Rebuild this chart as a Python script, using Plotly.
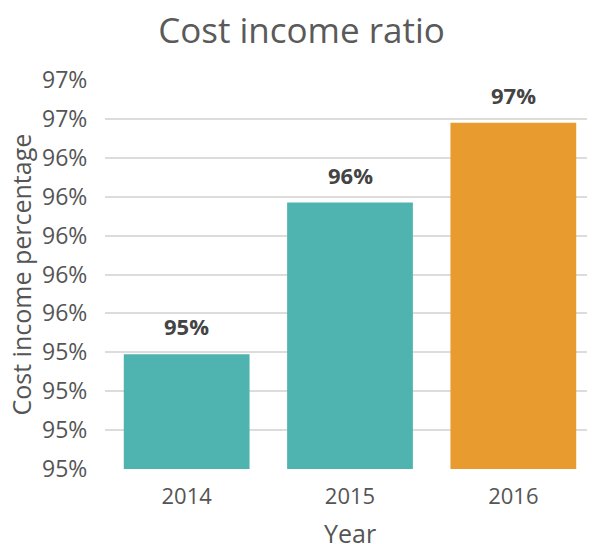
import plotly.graph_objects as go

# data
years = ["2014", "2015", "2016"]
cost_income = [0.9539, 0.9617, 0.9658]
bar_colors = ["#4fb3b0", "#4fb3b0", "#e89b2f"]

FONT = "'Open Sans', sans-serif"

fig = go.Figure(
    go.Bar(
        x=years,
        y=cost_income,
        marker={"color": bar_colors, "line": {"width": 0}},
    )
)

# value labels above the bars (category axis -> position by index)
for i, v in enumerate(cost_income):
    fig.add_annotation(
        x=i,
        y=v,
        xref="x",
        yref="y",
        text=f"<b>{v:.0%}</b>",
        showarrow=False,
        yanchor="bottom",
        yshift=11,
        font={"family": FONT, "size": 22, "color": "#444444"},
    )

# axis titles placed by hand (standoff gets clamped by the fixed margins)
fig.add_annotation(
    x=0.5, y=0, xref="paper", yref="paper",
    text="Year", showarrow=False,
    xanchor="center", yanchor="middle", yshift=-64,
    font={"family": FONT, "size": 25, "color": "#555555"},
)
fig.add_annotation(
    x=0, y=0.5, xref="paper", yref="paper",
    text="Cost income percentage", showarrow=False, textangle=-90,
    xanchor="center", yanchor="middle", xshift=-85,
    font={"family": FONT, "size": 25, "color": "#555555"},
)

# the page body has an 8px margin, so the figure is sized 8px smaller
fig.update_layout(
    width=587,
    height=536,
    margin={"l": 97, "r": 0, "t": 72, "b": 75, "autoexpand": False},
    plot_bgcolor="white",
    paper_bgcolor="white",
    bargap=0.23,
    showlegend=False,
    font={"family": FONT, "color": "#555555"},
    title={
        "text": "Cost income ratio",
        "x": 0.5,
        "xref": "container",
        "xanchor": "center",
        "y": 0.958,
        "yanchor": "middle",
        "font": {"size": 35, "color": "#5a5a5a"},
    },
)

fig.update_yaxes(
    range=[0.948, 0.968],
    tick0=0.948,
    dtick=0.002,
    tickformat=".0%",
    showgrid=True,
    gridcolor="#dcdcdc",
    gridwidth=1.5,
    zeroline=False,
    showline=False,
    ticks="outside",
    ticklen=12,
    tickcolor="rgba(0,0,0,0)",
    tickfont={"size": 23, "color": "#555555"},
    automargin=False,
)

fig.update_xaxes(
    type="category",
    showgrid=False,
    showline=False,
    ticks="outside",
    ticklen=8,
    tickcolor="rgba(0,0,0,0)",
    tickfont={"size": 22, "color": "#555555"},
    automargin=False,
)

fig.write_html("out.html")
